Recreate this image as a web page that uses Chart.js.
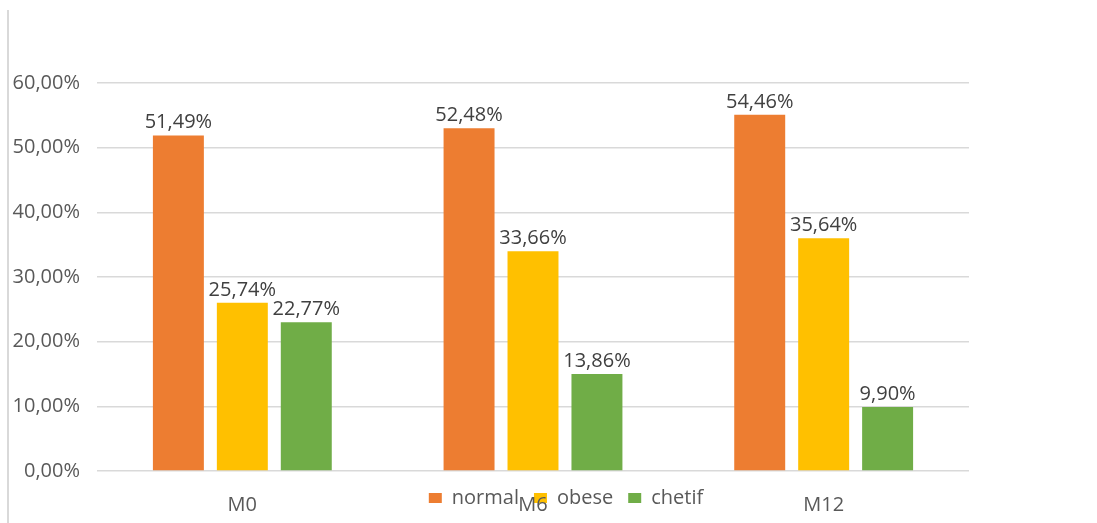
<!DOCTYPE html>
<html>
<head>
<meta charset="utf-8">
<script src="https://cdn.jsdelivr.net/npm/chart.js@4"></script>
<style>
  html, body { margin: 0; padding: 0; background: #ffffff; }
  #wrap { position: relative; width: 1097px; height: 523px; }
  #edge { position: absolute; left: 7px; top: 10px; width: 2px; height: 513px; background: #d9d9d9; }
  canvas { position: absolute; left: 0; top: 0; }
</style>
</head>
<body>
<div id="wrap">
  <div id="edge"></div>
  <canvas id="c" width="1097" height="523"></canvas>
</div>
<script>
// Categories and series (bar heights as drawn in the picture)
const categories = ['M0', 'M6', 'M12'];
const normalValues = [51.9, 53.0, 55.1];
const obeseValues = [26.0, 34.0, 36.0];
const chetifValues = [23.0, 15.0, 9.9];
// Data label texts as printed above the bars
const normalLabels = ['51,49%', '52,48%', '54,46%'];
const obeseLabels = ['25,74%', '33,66%', '35,64%'];
const chetifLabels = ['22,77%', '13,86%', '9,90%'];
// Y axis tick labels
const yTickLabels = ['0,00%', '10,00%', '20,00%', '30,00%', '40,00%', '50,00%', '60,00%'];
const seriesNames = ['normal', 'obese', 'chetif'];

const FONT = 'Open Sans';
const labelSets = [normalLabels, obeseLabels, chetifLabels];

const dataLabelPlugin = {
  id: 'dataLabels',
  afterDatasetsDraw(chart) {
    const ctx = chart.ctx;
    ctx.save();
    ctx.font = '20px "' + FONT + '"';
    ctx.fillStyle = '#404040';
    ctx.textAlign = 'center';
    ctx.textBaseline = 'alphabetic';
    chart.data.datasets.forEach((ds, di) => {
      const meta = chart.getDatasetMeta(di);
      meta.data.forEach((bar, i) => {
        ctx.fillText(labelSets[di][i], bar.x, bar.y - 7);
      });
    });
    ctx.restore();
  }
};

// Place the legend box over the bottom strip (it overlaps the category labels in the original)
const legendPlacePlugin = {
  id: 'legendPlace',
  afterLayout(chart) {
    const lg = chart.legend;
    if (!lg) return;
    lg.left = 35;
    lg.right = chart.width;
    lg.width = lg.right - lg.left;
    lg.top = chart.chartArea.bottom + 2;
    lg.bottom = chart.height;
    lg.height = lg.bottom - lg.top;
  }
};

new Chart(document.getElementById('c'), {
  type: 'bar',
  data: {
    labels: categories,
    datasets: [
      { label: seriesNames[0], data: normalValues, backgroundColor: '#ED7D31', borderWidth: 0 },
      { label: seriesNames[1], data: obeseValues, backgroundColor: '#FFC000', borderWidth: 0 },
      { label: seriesNames[2], data: chetifValues, backgroundColor: '#70AD47', borderWidth: 0 }
    ]
  },
  options: {
    responsive: false,
    animation: false,
    events: [],
    datasets: { bar: { categoryPercentage: 0.66, barPercentage: 0.797 } },
    layout: { padding: { left: 0, right: 128, top: 83, bottom: 0 } },
    plugins: {
      tooltip: { enabled: false },
      title: { display: false },
      legend: {
        display: true,
        position: 'bottom',
        maxHeight: 1,
        labels: {
          boxWidth: 13,
          boxHeight: 10,
          padding: 15,
          color: '#595959',
          font: { family: FONT, size: 20 }
        }
      }
    },
    scales: {
      x: {
        grid: { display: false, drawTicks: false },
        border: { display: false },
        ticks: { color: '#595959', font: { family: FONT, size: 20 }, padding: 22 },
        afterFit(s) { s.height = 51; }
      },
      y: {
        min: 0,
        max: 60,
        ticks: {
          stepSize: 10,
          padding: 17,
          color: '#595959',
          font: { family: FONT, size: 20 },
          callback: (v, i) => yTickLabels[i]
        },
        grid: { color: '#d9d9d9', lineWidth: 1.5, drawTicks: false },
        border: { display: false },
        afterFit(s) { s.width = 97; }
      }
    }
  },
  plugins: [dataLabelPlugin, legendPlacePlugin]
});
</script>
</body>
</html>
